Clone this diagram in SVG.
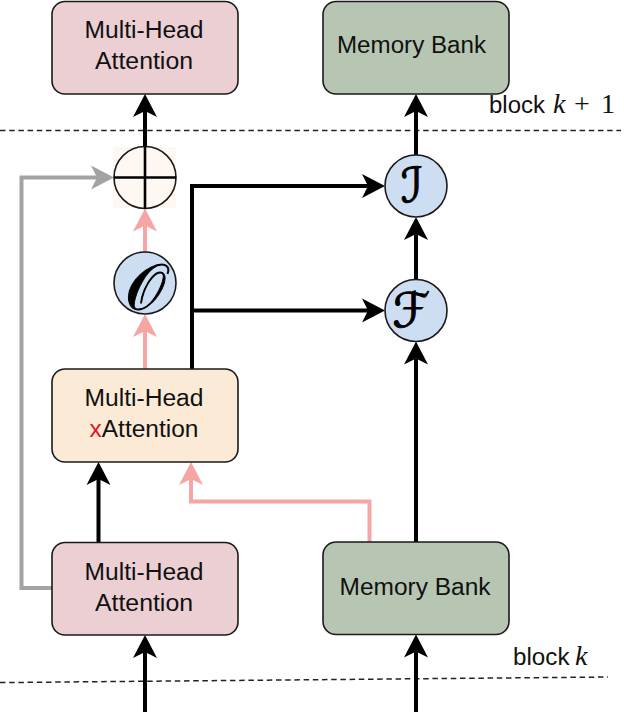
<svg xmlns="http://www.w3.org/2000/svg" width="624" height="727" viewBox="0 0 624 727">
<style>
.box{stroke:#1a1a1a;stroke-width:1.6}
.mha{fill:#EBCFD3}
.mb{fill:#B7C6B3}
.xa{fill:#FBEAD5}
.circ{fill:#CDDEF2;stroke:#1a1a1a;stroke-width:1.6}
.lbl{font-family:"Liberation Sans",Arial,sans-serif;font-size:23.5px;fill:#111;text-anchor:middle}
.blk{font-family:"Liberation Sans",Arial,sans-serif;font-size:23.5px;fill:#111}
.math{font-family:"Liberation Serif","DejaVu Serif",serif;font-size:28px;fill:#111}
.cal{font-family:"DejaVu Serif","DejaVu Sans","Liberation Serif",serif;font-size:48px;fill:#000;stroke:#000;stroke-width:0.9;text-anchor:middle}
.k{stroke:#000;stroke-width:4;fill:none}
.p{stroke:#F5A5A3;stroke-width:4;fill:none}
.g{stroke:#A3A3A3;stroke-width:4;fill:none}
.dash{stroke:#222;stroke-width:1.5;stroke-dasharray:5.5 3.7;fill:none}
</style>
<defs>
<marker id="ak" markerUnits="userSpaceOnUse" viewBox="-10 -15 30 30" markerWidth="30" markerHeight="30" refX="0" refY="0" orient="auto" overflow="visible">
<path d="M-6,-12 L17,0 L-6,12 L0,0 Z" fill="#000"/>
</marker>
<marker id="ap" markerUnits="userSpaceOnUse" viewBox="-10 -15 30 30" markerWidth="30" markerHeight="30" refX="0" refY="0" orient="auto" overflow="visible">
<path d="M-6,-12 L17,0 L-6,12 L0,0 Z" fill="#F5A5A3"/>
</marker>
<marker id="ag" markerUnits="userSpaceOnUse" viewBox="-10 -15 30 30" markerWidth="30" markerHeight="30" refX="0" refY="0" orient="auto" overflow="visible">
<path d="M-6,-12 L17,0 L-6,12 L0,0 Z" fill="#A3A3A3"/>
</marker>
</defs>

<g id="separators">
<path class="dash" d="M0,130.5 H621"/>
<path class="dash" d="M0,682.6 L608,677"/>
<text class="blk" x="489" y="113.3" textLength="56" lengthAdjust="spacingAndGlyphs">block</text>
<text class="math" x="553" y="113.3" font-style="italic">k</text>
<text class="math" x="574" y="113.3">+</text>
<text class="math" x="601" y="113.3">1</text>
<text class="blk" x="513" y="665" textLength="56.5" lengthAdjust="spacingAndGlyphs">block</text>
<text class="math" x="575" y="665" font-style="italic">k</text>
</g>

<g id="connectors">
<path class="k" d="M145,146.5 V111" marker-end="url(#ak)"/>
<path class="k" d="M416,155 V111" marker-end="url(#ak)"/>
<path class="k" d="M416,279.5 V234" marker-end="url(#ak)"/>
<path class="k" d="M416,542 V358.5" marker-end="url(#ak)"/>
<path class="k" d="M192,369 V186 H368" marker-end="url(#ak)"/>
<path class="k" d="M192,310.5 H368" marker-end="url(#ak)"/>
<path class="p" d="M145,252 V225.5" marker-end="url(#ap)"/>
<path class="p" d="M145,369 V331" marker-end="url(#ap)"/>
<path class="g" d="M52,588 H21.5 V177.5 H97" marker-end="url(#ag)"/>
<path class="k" d="M98.5,542.5 V479" marker-end="url(#ak)"/>
<path class="p" d="M369.5,542 V501.5 H191 V479" marker-end="url(#ap)"/>
<path class="k" d="M145,712 V652" marker-end="url(#ak)"/>
<path class="k" d="M416,712 V651.5" marker-end="url(#ak)"/>
</g>

<g id="mha-top">
<rect class="box mha" x="52" y="1.5" width="186" height="92.5" rx="13"/>
<text class="lbl" x="144" y="38" textLength="119" lengthAdjust="spacingAndGlyphs">Multi-Head</text>
<text class="lbl" x="144" y="69" textLength="98" lengthAdjust="spacingAndGlyphs">Attention</text>
</g>

<g id="mb-top">
<rect class="box mb" x="323" y="1.5" width="186" height="92.5" rx="13"/>
<text class="lbl" x="411.5" y="53" textLength="149" lengthAdjust="spacingAndGlyphs">Memory Bank</text>
</g>

<g id="plus">
<rect x="113" y="147" width="63" height="61" fill="#FFF8F2"/>
<circle cx="145" cy="177.5" r="31" fill="none" stroke="#1a1a1a" stroke-width="1.6"/>
<path d="M114,177.5 H176 M145,146.5 V208.5" stroke="#000" stroke-width="2.6"/>
</g>

<g id="op-o">
<circle class="circ" cx="145" cy="283" r="31"/>
<text class="cal" x="145" y="309" style="font-size:64px">𝒪</text>
</g>

<g id="op-i">
<circle class="circ" cx="416" cy="186" r="31"/>
<text class="cal" x="412" y="202">ℐ</text>
</g>

<g id="op-f">
<circle class="circ" cx="416" cy="310.5" r="31"/>
<text class="cal" x="411" y="327">ℱ</text>
</g>

<g id="xattention">
<rect class="box xa" x="52" y="369" width="186" height="93" rx="13"/>
<text class="lbl" x="144" y="406" textLength="119" lengthAdjust="spacingAndGlyphs">Multi-Head</text>
<text class="lbl" x="144" y="437" textLength="109" lengthAdjust="spacingAndGlyphs"><tspan fill="#E5142B">x</tspan>Attention</text>
</g>

<g id="mha-bottom">
<rect class="box mha" x="52" y="542.5" width="186" height="92.5" rx="13"/>
<text class="lbl" x="144" y="580" textLength="119" lengthAdjust="spacingAndGlyphs">Multi-Head</text>
<text class="lbl" x="144" y="611" textLength="98" lengthAdjust="spacingAndGlyphs">Attention</text>
</g>

<g id="mb-bottom">
<rect class="box mb" x="323" y="542" width="186" height="92.5" rx="13"/>
<text class="lbl" x="415" y="595" textLength="151" lengthAdjust="spacingAndGlyphs">Memory Bank</text>
</g>
</svg>
